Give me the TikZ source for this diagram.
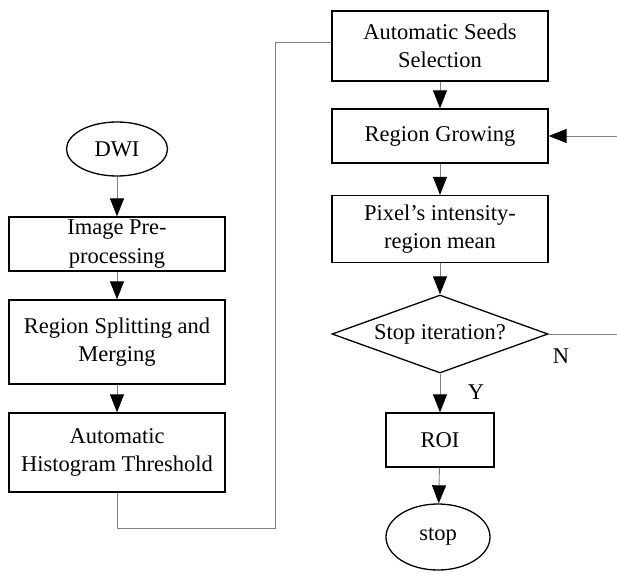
\documentclass[tikz,border=0pt]{standalone}
\usepackage{fontspec}
\setmainfont{Liberation Serif}
\usetikzlibrary{arrows.meta,shapes.geometric}
\begin{document}
\begin{tikzpicture}[x=1pt,y=-1pt,
  txt/.style={font=\fontsize{22.5}{28.5}\selectfont},
  box/.style={txt,draw,line width=1.3pt,minimum width=216pt,inner sep=0pt,align=center},
  oval/.style={txt,draw,ellipse,line width=1.3pt,inner sep=0pt},
  dec/.style={txt,draw,diamond,line width=1.3pt,inner sep=0pt,minimum width=216pt,minimum height=78pt,aspect=2.77},
  conn/.style={draw=black!50,line width=0.9pt},
  arr/.style={conn,-{Triangle[length=18pt,width=14pt,color=black]}}
]
\useasboundingbox (0,0) rectangle (617,572);
% left column
\node[oval,minimum width=101pt,minimum height=54pt] (dwi) at (117,149) {DWI};
\node[box,minimum height=54pt] (pre) at (117,244) {Image Pre-\\processing};
\node[box,minimum height=84pt] (split) at (117,342) {Region Splitting and\\Merging};
\node[box,minimum height=79pt] (hist) at (117,452.5) {Automatic\\Histogram Threshold};
% right column
\node[box,minimum height=70pt] (seeds) at (440,46) {Automatic Seeds\\Selection};
\node[box,minimum height=54pt] (grow) at (440,136) {Region Growing};
\node[box,minimum height=67pt] (pix) at (440,229) {Pixel's intensity-\\region mean};
\node[dec] (stopq) at (440,334) {Stop iteration?};
\node[box,minimum width=108pt,minimum height=54pt] (roi) at (440,440) {ROI};
\node[oval,minimum width=104pt,minimum height=66pt] (stop) at (438,537) {stop};
% labels
\node[txt] (ylab) at (476,392) {Y};
\node[txt] (nlab) at (561,356) {N};
% coordinates
\coordinate (c1) at (117,528);
\coordinate (c2) at (275,528);
\coordinate (c3) at (275,42);
\coordinate (c4) at (620,334);
\coordinate (c5) at (620,136);
% connectors
\draw[arr] (dwi) -- (pre);
\draw[arr] (pre) -- (split);
\draw[arr] (split) -- (hist);
\draw[conn] (hist.south) -- (c1) -- (c2) -- (c3) -- (c3 -| seeds.west);
\draw[arr] (seeds) -- (grow);
\draw[arr] (grow) -- (pix);
\draw[arr] (pix) -- (stopq);
\draw[arr] (stopq) -- (roi);
\draw[arr] (roi) -- (stop);
\draw[arr] (stopq.east) -- (c4) -- (c5) -- (grow.east);
\end{tikzpicture}
\end{document}
